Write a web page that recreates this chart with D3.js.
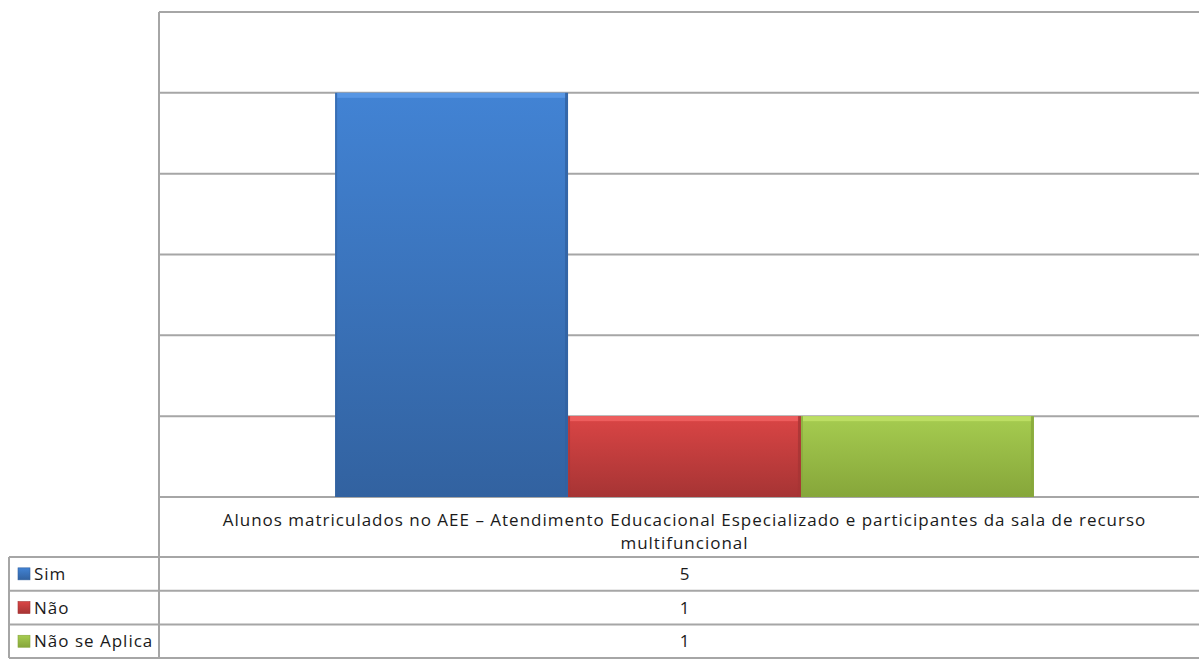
<!DOCTYPE html>
<html>
<head>
<meta charset="utf-8">
<script src="https://cdn.jsdelivr.net/npm/d3@7"></script>
<style>
  body { margin: 0; background: #fff; }
  svg { display: block; font-family: "Open Sans", "DejaVu Sans", sans-serif; }
</style>
</head>
<body>
<div id="chart"></div>
<script>
// Data
const category = "Alunos matriculados no AEE \u2013 Atendimento  Educacional Especializado e participantes da sala de recurso multifuncional";
const categoryLines = [
  "Alunos matriculados no AEE \u2013 Atendimento  Educacional Especializado e participantes da sala de recurso",
  "multifuncional"
];
const series = ["Sim", "Não", "Não se Aplica"];
const values = [5, 1, 1];
const yTicks = [0, 1, 2, 3, 4, 5, 6];

const colors = {
  "Sim": ["#5a98e6", "#4283d4", "#3262a0"],
  "Não": ["#f06060", "#da4545", "#a63434"],
  "Não se Aplica": ["#bfe066", "#a6cc50", "#86a63a"]
};

const W = 1199, H = 660;
const plot = { left: 159, right: 1210, top: 12, bottom: 497 };
const table = { left: 9, rowTop: 557, rowH: 33.7 };

const svg = d3.select("#chart").append("svg")
  .attr("width", W).attr("height", H).attr("viewBox", [0, 0, W, H]);

const defs = svg.append("defs");
series.forEach((s, i) => {
  const g = defs.append("linearGradient")
    .attr("id", "grad" + i)
    .attr("x1", 0).attr("y1", 0).attr("x2", 0).attr("y2", 1);
  g.append("stop").attr("offset", "0%").attr("stop-color", colors[s][1]);
  g.append("stop").attr("offset", "100%").attr("stop-color", colors[s][2]);
});

// Scales
const x0 = d3.scaleBand().domain([category]).range([plot.left, plot.right]).paddingInner(0).paddingOuter(0.252);
const x1 = d3.scaleBand().domain(series).range([0, x0.bandwidth()]);
const y = d3.scaleLinear().domain([0, 6]).range([plot.bottom, plot.top]);

const gridColor = "#a6a6a6";

// Gridlines
svg.append("g")
  .selectAll("line")
  .data(yTicks)
  .join("line")
  .attr("x1", plot.left)
  .attr("x2", plot.right)
  .attr("y1", (d) => y(d))
  .attr("y2", (d) => y(d))
  .attr("stroke", gridColor)
  .attr("stroke-width", 2);

// Left plot border
svg.append("line")
  .attr("x1", plot.left).attr("x2", plot.left)
  .attr("y1", plot.top).attr("y2", table.rowTop + series.length * table.rowH)
  .attr("stroke", gridColor).attr("stroke-width", 2);

// Bars
const bars = svg.append("g");
series.forEach((s, i) => {
  const bx = x0(category) + x1(s);
  const bw = x1.bandwidth();
  const by = y(values[i]);
  const bh = y(0) - by;
  bars.append("rect")
    .attr("x", bx).attr("y", by).attr("width", bw).attr("height", bh)
    .attr("fill", `url(#grad${i})`);
  // bevel: light top edge, darker sides
  bars.append("rect")
    .attr("x", bx + 2).attr("y", by).attr("width", bw - 4).attr("height", 5)
    .attr("fill", colors[s][0]).attr("opacity", 0.9);
  bars.append("rect")
    .attr("x", bx).attr("y", by).attr("width", 2).attr("height", bh)
    .attr("fill", colors[s][2]).attr("opacity", 0.6);
  bars.append("rect")
    .attr("x", bx + bw - 3).attr("y", by).attr("width", 3).attr("height", bh)
    .attr("fill", colors[s][2]).attr("opacity", 0.8);
});

// Category label
const cx = x0(category) + x0.bandwidth() / 2;
svg.append("text")
  .attr("x", cx)
  .attr("y", 526)
  .attr("text-anchor", "middle")
  .style("font-size", "17px")
  .style("letter-spacing", "1px")
  .attr("fill", "#1a1a1a")
  .selectAll("tspan")
  .data(categoryLines)
  .join("tspan")
  .attr("x", cx)
  .attr("dy", (d, i) => (i === 0 ? 0 : 23))
  .text((d) => d);

// Data table
const tg = svg.append("g");
series.forEach((s, i) => {
  const ry = table.rowTop + i * table.rowH;
  tg.append("line")
    .attr("x1", table.left).attr("x2", plot.right)
    .attr("y1", ry).attr("y2", ry)
    .attr("stroke", gridColor).attr("stroke-width", 2);
  tg.append("rect")
    .attr("x", 18).attr("y", ry + table.rowH / 2 - 6)
    .attr("width", 12).attr("height", 12)
    .attr("fill", `url(#grad${i})`)
    .attr("stroke", colors[s][2]).attr("stroke-width", 0.6);
  tg.append("text")
    .attr("x", 34).attr("y", ry + table.rowH / 2 + 6)
    .style("font-size", "17px")
    .style("letter-spacing", "1px")
    .attr("fill", "#1a1a1a")
    .text(s);
  tg.append("text")
    .attr("x", cx).attr("y", ry + table.rowH / 2 + 6)
    .attr("text-anchor", "middle")
    .style("font-size", "17px")
    .attr("fill", "#1a1a1a")
    .text(values[i]);
});
const bottomY = table.rowTop + series.length * table.rowH;
tg.append("line")
  .attr("x1", table.left).attr("x2", plot.right)
  .attr("y1", bottomY).attr("y2", bottomY)
  .attr("stroke", gridColor).attr("stroke-width", 2);
tg.append("line")
  .attr("x1", table.left).attr("x2", table.left)
  .attr("y1", table.rowTop).attr("y2", bottomY)
  .attr("stroke", gridColor).attr("stroke-width", 2);
</script>
</body>
</html>
